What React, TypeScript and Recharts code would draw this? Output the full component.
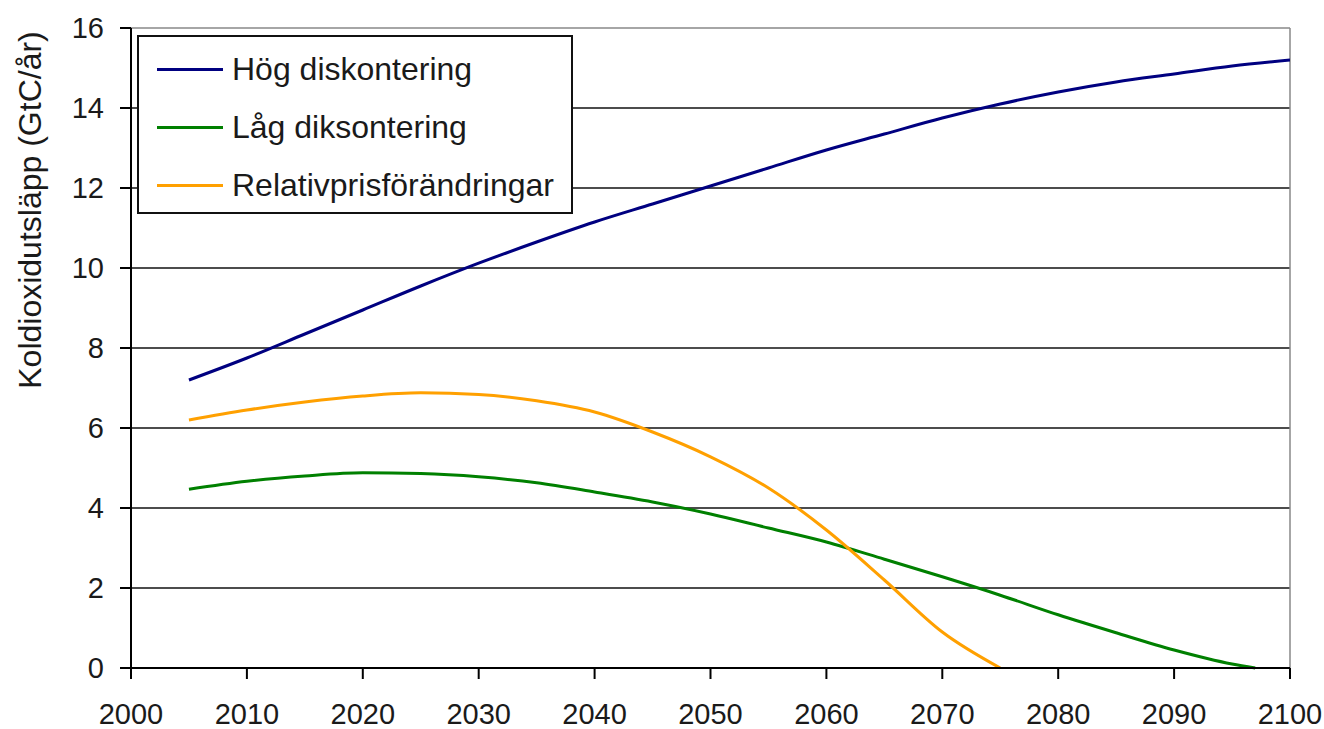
import React from 'react'
import {
  LineChart,
  Line,
  XAxis,
  YAxis,
  CartesianGrid,
  ReferenceLine,
  Legend,
} from 'recharts'

// Values (GtC/år)
const hogYears = [2005, 2010, 2015, 2020, 2025, 2030, 2035, 2040, 2045, 2050, 2055, 2060, 2065, 2070, 2075, 2080, 2085, 2090, 2095, 2100]
const hogValues = [7.2, 7.75, 8.35, 8.95, 9.55, 10.12, 10.65, 11.15, 11.6, 12.05, 12.5, 12.95, 13.35, 13.75, 14.1, 14.4, 14.65, 14.85, 15.05, 15.2]

const lagYears = [2005, 2010, 2015, 2020, 2025, 2030, 2035, 2040, 2045, 2050, 2055, 2060, 2065, 2070, 2075, 2080, 2085, 2090, 2095, 2097]
const lagValues = [4.47, 4.67, 4.8, 4.88, 4.86, 4.78, 4.63, 4.4, 4.15, 3.85, 3.5, 3.15, 2.72, 2.28, 1.82, 1.33, 0.88, 0.45, 0.1, 0]

const relYears = [2005, 2010, 2015, 2020, 2025, 2030, 2035, 2040, 2045, 2050, 2055, 2060, 2065, 2070, 2075]
const relValues = [6.2, 6.45, 6.65, 6.8, 6.88, 6.84, 6.68, 6.4, 5.9, 5.28, 4.5, 3.45, 2.2, 0.9, 0]

const xTicks = [2000, 2010, 2020, 2030, 2040, 2050, 2060, 2070, 2080, 2090, 2100]
const yTicks = [0, 2, 4, 6, 8, 10, 12, 14, 16]

const seriesNames = ['Hög diskontering', 'Låg diksontering', 'Relativprisförändringar']
const seriesColors = ['#000080', '#008000', '#FFA000']

const toPoints = (years: number[], values: number[]) =>
  years.map((year, i) => ({ year, value: values[i] }))

const FONT = '"Liberation Sans", Arial, sans-serif'

const renderLegend = (props: any) => {
  const items = props.payload || []
  return (
    <div
      style={{
        boxSizing: 'border-box',
        width: 436,
        height: 179,
        border: '2px solid #111',
        background: '#fff',
        paddingTop: 3,
        fontFamily: FONT,
      }}
    >
      {items.map((item: any) => (
        <div key={item.value} style={{ display: 'flex', alignItems: 'center', height: 58 }}>
          <div style={{ width: 66, height: 3, marginLeft: 18, background: item.color }} />
          <span style={{ marginLeft: 9, fontSize: 32, color: '#1a1a1a', lineHeight: '58px' }}>
            {item.value}
          </span>
        </div>
      ))}
    </div>
  )
}

const YLabel = () => (
  <text
    x={30}
    y={210}
    transform="rotate(-90, 30, 210)"
    textAnchor="middle"
    dominantBaseline="central"
    fontSize={32}
    fontFamily={FONT}
    fill="#1a1a1a"
  >
    Koldioxidutsläpp (GtC/år)
  </text>
)

export default function App() {
  return (
    <div style={{ position: 'absolute', left: 0, top: 0, width: 1324, height: 729, background: '#fff' }}>
      <LineChart
        width={1324}
        height={729}
        margin={{ top: 28, right: 34, bottom: 0, left: 0 }}
      >
        <CartesianGrid
          vertical={false}
          horizontalValues={[2, 4, 6, 8, 10, 12, 14]}
          stroke="#111"
          strokeWidth={1.5}
        />
        <ReferenceLine y={16} stroke="#888" strokeWidth={1.5} />
        <ReferenceLine x={2100} stroke="#888" strokeWidth={1.5} />
        <XAxis
          type="number"
          dataKey="year"
          domain={[2000, 2100]}
          ticks={xTicks}
          allowDataOverflow
          height={61}
          tickSize={11}
          tickMargin={24}
          axisLine={{ stroke: '#000', strokeWidth: 2 }}
          tickLine={{ stroke: '#000', strokeWidth: 2 }}
          tick={{ fill: '#1a1a1a', fontSize: 29, fontFamily: FONT }}
        />
        <YAxis
          type="number"
          domain={[0, 16]}
          ticks={yTicks}
          width={131}
          tickSize={11}
          tickMargin={16}
          axisLine={{ stroke: '#000', strokeWidth: 2 }}
          tickLine={{ stroke: '#000', strokeWidth: 2 }}
          tick={{ fill: '#1a1a1a', fontSize: 29, fontFamily: FONT }}
          label={<YLabel />}
        />
        <Legend
          layout="vertical"
          align="center"
          verticalAlign="middle"
          wrapperStyle={{ left: 137, top: 35, width: 436, height: 179 }}
          content={renderLegend}
        />
        <Line
          data={toPoints(hogYears, hogValues)}
          dataKey="value"
          name={seriesNames[0]}
          type="monotone"
          stroke={seriesColors[0]}
          strokeWidth={3}
          dot={false}
          isAnimationActive={false}
        />
        <Line
          data={toPoints(lagYears, lagValues)}
          dataKey="value"
          name={seriesNames[1]}
          type="monotone"
          stroke={seriesColors[1]}
          strokeWidth={3}
          dot={false}
          isAnimationActive={false}
        />
        <Line
          data={toPoints(relYears, relValues)}
          dataKey="value"
          name={seriesNames[2]}
          type="monotone"
          stroke={seriesColors[2]}
          strokeWidth={3}
          dot={false}
          isAnimationActive={false}
        />
      </LineChart>
    </div>
  )
}
